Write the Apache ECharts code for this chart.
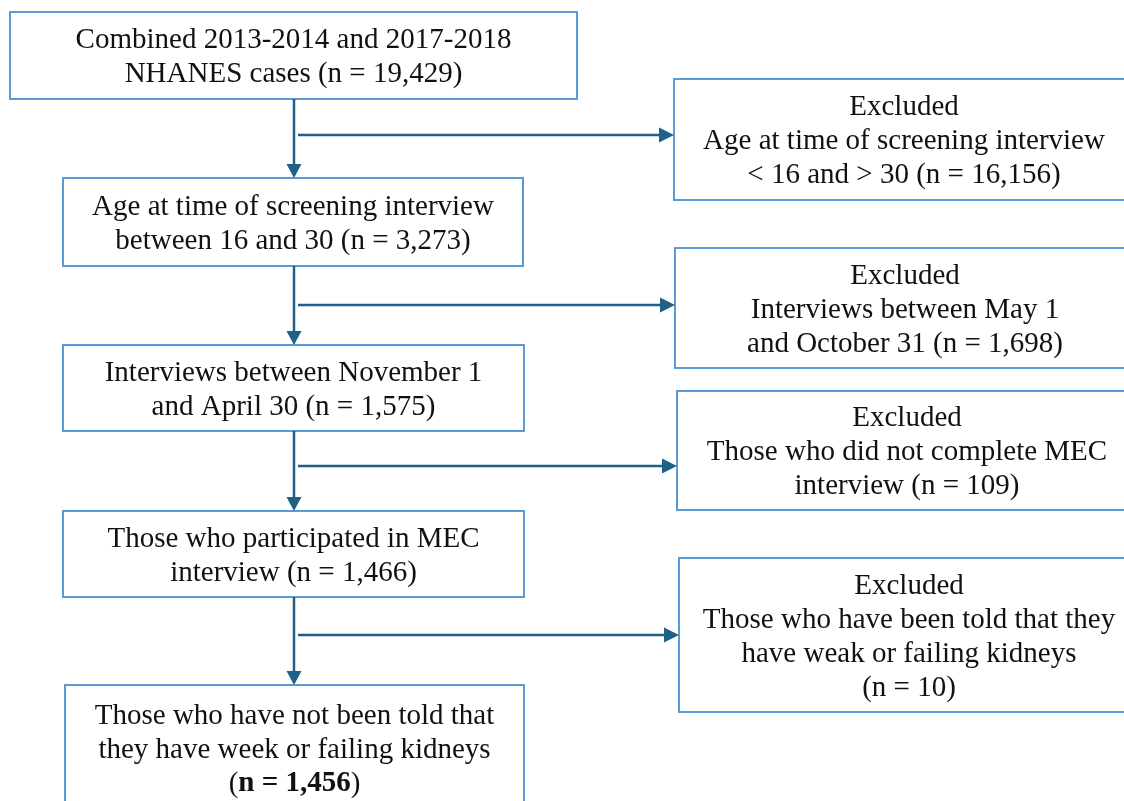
<!DOCTYPE html>
<html>
<head>
<meta charset="utf-8">
<script src="https://cdn.jsdelivr.net/npm/echarts@6/dist/echarts.min.js"></script>
<style>
  html, body { margin: 0; padding: 0; background: #fff; }
  #main { width: 1124px; height: 801px; }
</style>
</head>
<body>
<div id="main"></div>
<script>
// flow steps (left column)
var stepLines = [
  ["Combined 2013-2014 and 2017-2018", "NHANES cases"],
  ["Age at time of screening interview", "between 16 and 30"],
  ["Interviews between November 1", "and April 30"],
  ["Those who participated in MEC", "interview"],
  ["Those who have not been told that", "they have week or failing kidneys", ""]
];
var stepCounts = [19429, 3273, 1575, 1466, 1456];

// exclusions (right column)
var excludedLines = [
  ["Age at time of screening interview", "< 16 and > 30"],
  ["Interviews between May 1", "and October 31"],
  ["Those who did not complete MEC", "interview"],
  ["Those who have been told that they", "have weak or failing kidneys", ""]
];
var excludedCounts = [16156, 1698, 109, 10];

// layout (pixels)
var leftBoxes = [
  [10, 12, 567, 87],
  [63, 178, 460, 88],
  [63, 345, 461, 86],
  [63, 511, 461, 86],
  [65, 685, 459, 126]
];
var rightBoxes = [
  [674, 79, 460, 121],
  [675, 248, 460, 120],
  [677, 391, 460, 119],
  [679, 558, 460, 154]
];
var branchY = [135, 305, 466, 635];
var trunkX = 294;

var borderColor = "#5b9bd5";
var arrowColor = "#1f6089";
var font = '"Liberation Serif", "Times New Roman", serif';
var fontSize = 29;

function fmt(n) {
  return n.toLocaleString("en-US");
}

function boxText(lines, count, bold) {
  var out = lines.slice();
  var last = out.length - 1;
  var cnt = "n = " + fmt(count);
  if (bold) cnt = "{b|" + cnt + "}";
  out[last] = (out[last] ? out[last] + " " : "") + "(" + cnt + ")";
  return out.join("\n");
}

var elements = [];

function addBox(b, text) {
  elements.push({
    type: "rect",
    shape: { x: b[0], y: b[1], width: b[2], height: b[3] },
    style: { fill: "#fff", stroke: borderColor, lineWidth: 2 }
  });
  elements.push({
    type: "text",
    x: b[0] + b[2] / 2,
    y: b[1] + b[3] / 2 + 2,
    style: {
      text: text,
      font: fontSize + "px " + font,
      fill: "#111",
      align: "center",
      verticalAlign: "middle",
      lineHeight: 34,
      rich: { b: { font: "bold " + fontSize + "px " + font, fill: "#111", lineHeight: 34 } }
    }
  });
}

function addArrowV(x, y1, y2) {
  elements.push({
    type: "line",
    shape: { x1: x, y1: y1, x2: x, y2: y2 - 12 },
    style: { stroke: arrowColor, lineWidth: 2.5 }
  });
  elements.push({
    type: "polygon",
    shape: { points: [[x - 7.5, y2 - 14], [x + 7.5, y2 - 14], [x, y2]] },
    style: { fill: arrowColor }
  });
}

function addArrowH(x1, x2, y) {
  elements.push({
    type: "line",
    shape: { x1: x1, y1: y, x2: x2 - 12, y2: y },
    style: { stroke: arrowColor, lineWidth: 2.5 }
  });
  elements.push({
    type: "polygon",
    shape: { points: [[x2 - 15, y - 7.5], [x2 - 15, y + 7.5], [x2, y]] },
    style: { fill: arrowColor }
  });
}

for (var i = 0; i < stepLines.length; i++) {
  var isLast = i === stepLines.length - 1;
  addBox(leftBoxes[i], boxText(stepLines[i], stepCounts[i], isLast));
}
for (var j = 0; j < excludedLines.length; j++) {
  addBox(rightBoxes[j], "Excluded\n" + boxText(excludedLines[j], excludedCounts[j], false));
}
for (var k = 0; k < leftBoxes.length - 1; k++) {
  var boxBottom = leftBoxes[k][1] + leftBoxes[k][3];
  addArrowV(trunkX, boxBottom, leftBoxes[k + 1][1]);
  addArrowH(trunkX + 4, rightBoxes[k][0], branchY[k]);
}

var myChart = echarts.init(document.getElementById("main"));
var option = {
  backgroundColor: "#fff",
  animation: false,
  graphic: { elements: elements }
};
myChart.setOption(option);
</script>
</body>
</html>
